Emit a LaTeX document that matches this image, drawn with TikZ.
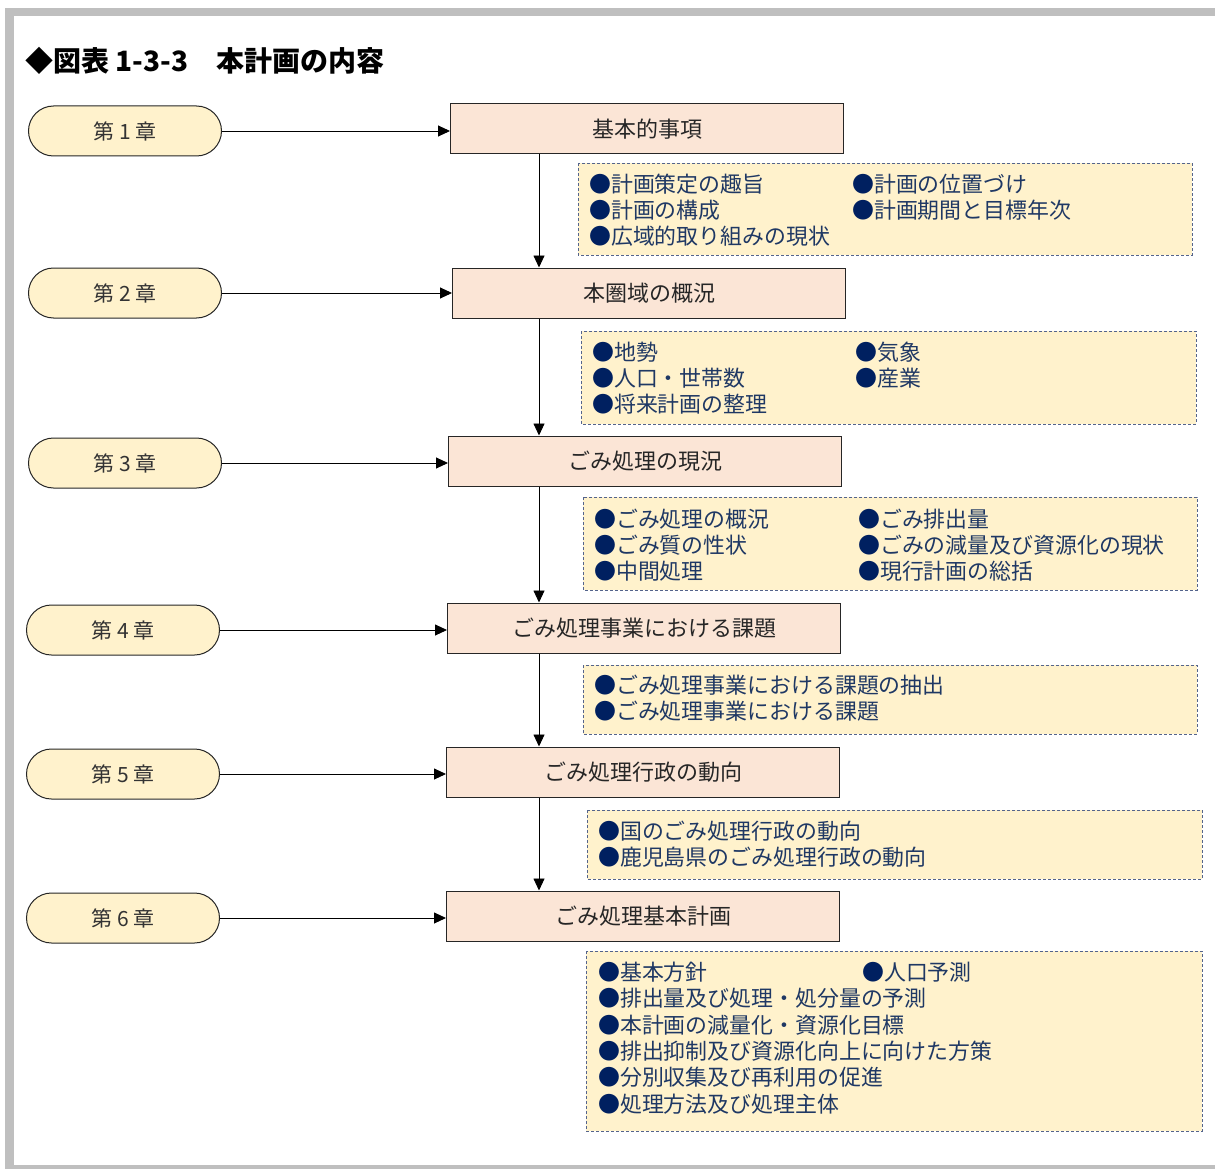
\documentclass[tikz,border=0pt]{standalone}
\usepackage{fontspec}
\setmainfont{Noto Sans CJK JP}
\usetikzlibrary{arrows.meta,calc,positioning}
\definecolor{framegray}{RGB}{191,191,191}
\definecolor{chapfill}{RGB}{255,242,204}
\definecolor{headfill}{RGB}{251,229,214}
\definecolor{notefill}{RGB}{255,242,204}
\definecolor{notedraw}{RGB}{84,100,140}
\definecolor{notetext}{RGB}{31,56,100}
\definecolor{dotblue}{RGB}{0,32,96}
\tikzset{
  chap/.style  = {draw=black!85, line width=1pt, fill=chapfill, rounded corners=25pt,
                  minimum width=193pt, minimum height=50pt, text=black!80,
                  font=\fontsize{21}{24}\selectfont},
  head/.style  = {draw=black!85, line width=1pt, fill=headfill, minimum width=393pt,
                  minimum height=50pt, text=black!85, font=\fontsize{22}{25}\selectfont},
  note/.style  = {draw=notedraw, line width=0.9pt, dash pattern=on 3pt off 2pt,
                  fill=notefill},
  item/.style  = {anchor=west, inner sep=0pt, text=notetext,
                  font=\fontsize{21.9}{25}\selectfont},
  link/.style  = {line width=0.9pt, -{Triangle[length=12pt,width=11pt]}},
}
\newcommand{\dotitem}[1]{{\color{dotblue}●}#1}

\begin{document}
\begin{tikzpicture}[x=1pt,y=-1pt]
  \useasboundingbox (0,0) rectangle (1215,1169);
  % frame
  \fill[framegray] (5,8) rectangle (1215,16);
  \fill[framegray] (5,8) rectangle (14,1169);
  \fill[framegray] (5,1165) rectangle (1215,1169);
  \node[anchor=west, inner sep=0pt, font=\fontsize{28}{32}\selectfont\bfseries]
    (title) at (25,61) {◆図表 1-3-3　本計画の内容};

  % chapters
  \node[chap] (c1) at (125,131) {第 1 章};
  \node[chap] (c2) at (125,293) {第 2 章};
  \node[chap] (c3) at (125,463) {第 3 章};
  \node[chap] (c4) at (123,630) {第 4 章};
  \node[chap] (c5) at (123,774) {第 5 章};
  \node[chap] (c6) at (123,918) {第 6 章};

  % chapter contents
  \node[head] (h1) at (647,129) {基本的事項};
  \node[head] (h2) at (649,293) {本圏域の概況};
  \node[head] (h3) at (645,461) {ごみ処理の現況};
  \node[head] (h4) at (644,628) {ごみ処理事業における課題};
  \node[head] (h5) at (643,772) {ごみ処理行政の動向};
  \node[head] (h6) at (643,916) {ごみ処理基本計画};

  \foreach \i in {1,...,6}{
    \draw[link] (c\i.east) -- (h\i.west |- c\i.east);}

  \coordinate (spine) at (539,0);
  \foreach \i/\j in {1/2,2/3,3/4,4/5,5/6}{
    \draw[link] (h\i.south -| spine) -- (h\j.north -| spine);}

  % detail boxes
  \draw[note] (578,163) rectangle (1192,255) coordinate (d1);
  \draw[note] (581,331) rectangle (1196,424) coordinate (d2);
  \draw[note] (583,497) rectangle (1197,590) coordinate (d3);
  \draw[note] (583,665) rectangle (1197,734) coordinate (d4);
  \draw[note] (587,810) rectangle (1202,879) coordinate (d5);
  \draw[note] (586,951) rectangle (1202,1131) coordinate (d6);
  \coordinate (n1) at (589,184);
  \coordinate (n2) at (592,352);
  \coordinate (n3) at (594,519);
  \coordinate (n4) at (594,685);
  \coordinate (n5) at (598,831);
  \coordinate (n6) at (598,972);

  \foreach \c/\r/\t [count=\k] in {0/0/計画策定の趣旨, 0/1/計画の構成, 0/2/広域的取り組みの現状,
      1/0/計画の位置づけ, 1/1/計画期間と目標年次}{
    \node[item] (n1-\k) at ($(n1)+(263*\c,26*\r)$) {\dotitem{\t}};}
  \foreach \c/\r/\t [count=\k] in {0/0/地勢, 0/1/人口・世帯数, 0/2/将来計画の整理,
      1/0/気象, 1/1/産業}{
    \node[item] (n2-\k) at ($(n2)+(263*\c,26*\r)$) {\dotitem{\t}};}
  \foreach \c/\r/\t [count=\k] in {0/0/ごみ処理の概況, 0/1/ごみ質の性状, 0/2/中間処理,
      1/0/ごみ排出量, 1/1/ごみの減量及び資源化の現状, 1/2/現行計画の総括}{
    \node[item] (n3-\k) at ($(n3)+(264*\c,26*\r)$) {\dotitem{\t}};}
  \foreach \r/\t [count=\k] in {0/ごみ処理事業における課題の抽出, 1/ごみ処理事業における課題}{
    \node[item] (n4-\k) at ($(n4)+(0,26*\r)$) {\dotitem{\t}};}
  \foreach \r/\t [count=\k] in {0/国のごみ処理行政の動向, 1/鹿児島県のごみ処理行政の動向}{
    \node[item] (n5-\k) at ($(n5)+(0,26*\r)$) {\dotitem{\t}};}
  \foreach \c/\r/\t [count=\k] in {0/0/基本方針, 1/0/人口予測, 0/1/排出量及び処理・処分量の予測,
      0/2/本計画の減量化・資源化目標, 0/3/排出抑制及び資源化向上に向けた方策,
      0/4/分別収集及び再利用の促進, 0/5/処理方法及び処理主体}{
    \node[item] (n6-\k) at ($(n6)+(264*\c,26.4*\r)$) {\dotitem{\t}};}
\end{tikzpicture}
\end{document}
